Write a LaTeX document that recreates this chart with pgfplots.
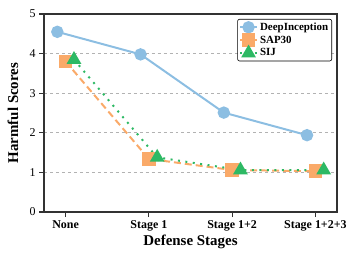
\documentclass[border=0pt]{standalone}
\usepackage{fontspec}
\setmainfont{Liberation Serif}
\usepackage{pgfplots}
\pgfplotsset{compat=1.18}
\usetikzlibrary{calc}
\definecolor{cblue}{RGB}{140,190,226}
\definecolor{corange}{RGB}{250,170,105}
\definecolor{cgreen}{RGB}{45,185,100}
\definecolor{axgray}{RGB}{50,50,50}
\begin{document}
\begin{tikzpicture}
\begin{axis}[
  scale only axis,
  width=293bp, height=198bp,
  xmin=-0.26, xmax=3.26,
  ymin=0, ymax=5,
  xtick={0,1,2,3},
  xticklabels={None,Stage 1,Stage 1+2,Stage 1+2+3},
  ytick={0,1,2,3,4,5},
  x tick label style={font=\fontsize{12}{12}\selectfont\bfseries},
  y tick label style={font=\fontsize{12}{12}\selectfont},
  /pgf/number format/assume math mode=true,
  tick align=outside,
  xtick pos=bottom, ytick pos=left,
  major tick length=5bp,
  tick style={axgray, line width=1.2pt},
  axis line style={axgray, line width=1.2pt},
  ymajorgrids,
  grid style={gray!60, dashed, line width=0.7pt},
  xlabel={Defense Stages},
  ylabel={Harmful Scores},
  xlabel style={font=\fontsize{15}{15}\selectfont\bfseries, at={(axis description cs:0.5,-0.152)}, anchor=center},
  ylabel style={font=\fontsize{15}{15}\selectfont\bfseries, at={(axis description cs:-0.106,0.5)}, anchor=center},
  legend style={at={(axis description cs:0.983,0.975)}, anchor=north east, font=\fontsize{11}{12}\selectfont\bfseries, draw=black, line width=0.6pt, rounded corners=2pt, inner sep=1.5pt, row sep=0pt},
  legend cell align=left,
]
\addplot[cblue, line width=2pt, mark=*, mark size=5.2bp, mark options={solid}] coordinates {(-0.1,4.55) (0.9,3.98) (1.9,2.51) (2.9,1.94)};
\addlegendentry{DeepInception}
\addplot[corange, line width=2pt, dash pattern=on 7pt off 4pt, mark=square*, mark size=5.8bp, mark options={solid}] coordinates {(0,3.80) (1,1.34) (2,1.06) (3,1.03)};
\addlegendentry{SAP30}
\addplot[cgreen, line width=2pt, dash pattern=on 2pt off 5.5pt, mark=triangle*, mark size=6.5bp, mark options={solid}] coordinates {(0.1,3.85) (1.1,1.38) (2.1,1.06) (3.1,1.06)};
\addlegendentry{SIJ}
\end{axis}
\pgfresetboundingbox
\useasboundingbox ($(current axis.south west)+(-44bp,-50bp)$) rectangle ($(current axis.north east)+(21bp,14bp)$);
\end{tikzpicture}
\end{document}
